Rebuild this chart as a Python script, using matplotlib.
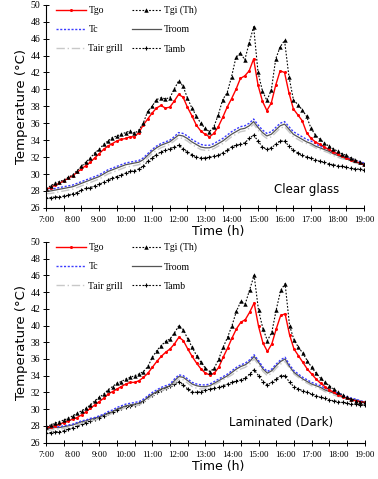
import numpy as np
import matplotlib
matplotlib.use("Agg")
import matplotlib.pyplot as plt
from matplotlib.ticker import MultipleLocator, FixedLocator

# time axis: every 10 min from 7:00 to 19:00
times = [f"{h}:{m:02d}" for h in range(7, 19) for m in range(0, 60, 10)] + ["19:00"]
t_hours = np.array([int(s.split(":")[0]) + int(s.split(":")[1]) / 60 for s in times])

hour_labels = [f"{h}:00" for h in range(7, 20)]

# ---------- Clear glass (top panel) ----------
clear_tgo = [28.2, 28.4, 28.7, 28.9, 29.2, 29.5,
             29.8, 30.2, 30.6, 31.0, 31.4, 31.9,
             32.4, 32.9, 33.3, 33.6, 33.9, 34.1,
             34.2, 34.4, 34.4, 34.9, 35.8, 36.5,
             37.2, 37.8, 38.1, 37.8, 37.9, 38.6,
             39.4, 39.1, 37.9, 36.9, 35.8, 35.1,
             34.7, 34.4, 34.8, 35.6, 36.7, 37.9,
             38.9, 40.0, 41.3, 41.6, 42.2, 43.6,
             40.5, 38.6, 37.5, 38.4, 40.5, 42.2,
             42.0, 39.6, 37.7, 37.0, 36.3, 34.9,
             34.2, 33.8, 33.5, 33.2, 32.9, 32.6,
             32.4, 32.1, 31.9, 31.7, 31.5, 31.3,
             31.1]
clear_tgi = [28.3, 28.6, 28.9, 29.1, 29.3, 29.6,
             29.9, 30.4, 30.9, 31.4, 31.9, 32.5,
             32.9, 33.5, 33.9, 34.3, 34.5, 34.7,
             34.9, 35.1, 34.8, 35.2, 36.0, 37.4,
             38.0, 38.8, 39.0, 38.9, 39.0, 40.0,
             41.0, 40.4, 39.0, 37.8, 36.9, 36.0,
             35.4, 35.0, 35.6, 37.0, 38.8, 39.6,
             41.5, 43.8, 44.3, 43.5, 45.5, 47.4,
             42.0, 39.8, 38.7, 39.9, 43.6, 45.0,
             45.8, 41.5, 38.8, 38.2, 37.6, 36.8,
             35.4, 34.6, 34.1, 33.7, 33.3, 33.0,
             32.7, 32.4, 32.2, 31.9, 31.7, 31.4,
             31.2]
clear_tc = [28.2, 28.2, 28.3, 28.4, 28.5, 28.6,
            28.7, 28.9, 29.1, 29.3, 29.5, 29.7,
            29.9, 30.2, 30.5, 30.7, 30.9, 31.1,
            31.3, 31.4, 31.5, 31.6, 31.9, 32.4,
            32.9, 33.3, 33.6, 33.8, 34.0, 34.4,
            34.9, 34.8, 34.5, 34.1, 33.8, 33.5,
            33.4, 33.4, 33.6, 33.9, 34.2, 34.6,
            35.0, 35.3, 35.6, 35.7, 36.0, 36.5,
            35.8, 35.2, 34.8, 35.0, 35.5, 36.0,
            36.2, 35.6, 35.0, 34.7, 34.4, 34.1,
            33.9, 33.6, 33.3, 33.1, 32.9, 32.6,
            32.4, 32.2, 32.0, 31.8, 31.6, 31.5,
            31.3]
clear_troom = [28.0, 28.0, 28.1, 28.2, 28.3, 28.4,
               28.5, 28.7, 28.9, 29.1, 29.3, 29.5,
               29.7, 30.0, 30.3, 30.5, 30.7, 30.9,
               31.1, 31.2, 31.3, 31.4, 31.7, 32.2,
               32.7, 33.1, 33.4, 33.6, 33.8, 34.2,
               34.6, 34.5, 34.2, 33.8, 33.5, 33.2,
               33.1, 33.1, 33.3, 33.6, 33.9, 34.3,
               34.7, 35.0, 35.3, 35.4, 35.7, 36.2,
               35.5, 34.9, 34.5, 34.7, 35.2, 35.7,
               35.9, 35.3, 34.7, 34.4, 34.1, 33.8,
               33.6, 33.3, 33.1, 32.9, 32.7, 32.4,
               32.2, 32.0, 31.8, 31.6, 31.4, 31.3,
               31.1]
clear_tair = [27.7, 27.7, 27.8, 27.9, 28.0, 28.1,
              28.2, 28.4, 28.6, 28.8, 29.0, 29.2,
              29.4, 29.7, 30.0, 30.2, 30.4, 30.6,
              30.8, 30.9, 31.0, 31.1, 31.4, 31.9,
              32.4, 32.8, 33.1, 33.3, 33.5, 33.9,
              34.3, 34.2, 33.9, 33.5, 33.2, 32.9,
              32.8, 32.8, 33.0, 33.3, 33.6, 34.0,
              34.4, 34.7, 35.0, 35.1, 35.4, 35.9,
              35.2, 34.6, 34.2, 34.4, 34.9, 35.4,
              35.6, 35.0, 34.4, 34.1, 33.8, 33.6,
              33.4, 33.1, 32.9, 32.7, 32.5, 32.2,
              32.0, 31.8, 31.7, 31.5, 31.3, 31.2,
              31.0]
clear_tamb = [27.2, 27.2, 27.3, 27.3, 27.4, 27.5,
              27.7, 27.8, 28.1, 28.3, 28.4, 28.6,
              28.8, 29.0, 29.3, 29.5, 29.7, 29.9,
              30.1, 30.3, 30.4, 30.6, 30.9, 31.5,
              31.9, 32.3, 32.6, 32.8, 33.0, 33.2,
              33.4, 33.0, 32.6, 32.3, 32.0, 31.9,
              31.9, 32.0, 32.1, 32.2, 32.5, 32.8,
              33.2, 33.4, 33.5, 33.7, 34.2, 34.6,
              33.9, 33.2, 32.9, 33.1, 33.5, 33.9,
              33.9, 33.3, 32.8, 32.5, 32.2, 32.0,
              31.9, 31.7, 31.5, 31.4, 31.2, 31.1,
              31.0, 30.9, 30.8, 30.7, 30.6, 30.6,
              30.5]

# ---------- Laminated (Dark) (bottom panel) ----------
lam_tgo = [27.7, 27.9, 28.0, 28.2, 28.4, 28.6,
           28.8, 29.0, 29.3, 29.7, 30.1, 30.5,
           30.9, 31.3, 31.8, 32.1, 32.4, 32.7,
           33.0, 33.2, 33.2, 33.4, 33.8, 34.3,
           35.0, 35.7, 36.3, 36.8, 37.2, 37.8,
           38.6, 38.2, 37.2, 36.3, 35.5, 34.8,
           34.3, 34.1, 34.3, 35.0, 36.2, 37.3,
           38.5, 39.6, 40.4, 40.7, 41.6, 42.7,
           39.9, 37.9, 36.9, 37.8, 39.6, 41.2,
           41.4, 38.9, 37.2, 36.4, 35.6, 34.8,
           34.2, 33.6, 33.1, 32.7, 32.3, 32.0,
           31.7, 31.5, 31.3, 31.1, 31.0, 30.9,
           30.8]
lam_tgi = [27.9, 28.1, 28.3, 28.5, 28.7, 28.9,
           29.2, 29.5, 29.8, 30.1, 30.5, 31.0,
           31.4, 31.8, 32.3, 32.7, 33.1, 33.3,
           33.6, 33.8, 34.0, 34.2, 34.5, 35.1,
           36.2, 37.0, 37.6, 38.1, 38.4, 39.1,
           40.0, 39.5, 38.4, 37.4, 36.4, 35.6,
           34.9, 34.5, 34.9, 36.0, 37.4, 38.6,
           40.0, 41.7, 42.9, 42.6, 44.3, 46.0,
           41.8, 39.6, 38.2, 39.2, 41.9, 44.2,
           45.0, 40.0, 38.3, 37.4, 36.7, 35.8,
           35.0, 34.3, 33.7, 33.2, 32.8, 32.4,
           32.0, 31.7, 31.4, 31.2, 31.0, 30.9,
           30.8]
lam_tc = [27.8, 27.8, 27.9, 27.9, 28.0, 28.1,
          28.2, 28.4, 28.6, 28.7, 28.9, 29.0,
          29.2, 29.4, 29.7, 29.9, 30.2, 30.4,
          30.6, 30.7, 30.8, 30.9, 31.2, 31.6,
          32.0, 32.3, 32.6, 32.8, 33.0, 33.6,
          34.1, 34.0, 33.6, 33.2, 33.0, 32.9,
          32.9, 33.0, 33.3, 33.6, 33.9, 34.2,
          34.6, 35.0, 35.3, 35.5, 35.9, 36.5,
          35.8, 35.0, 34.5, 34.8, 35.4, 35.9,
          36.2, 35.3, 34.6, 34.2, 33.8, 33.5,
          33.2, 33.0, 32.8, 32.5, 32.3, 32.1,
          31.9, 31.7, 31.5, 31.3, 31.2, 31.0,
          30.9]
lam_troom = [27.7, 27.7, 27.8, 27.8, 27.9, 28.0,
             28.1, 28.3, 28.5, 28.6, 28.8, 28.9,
             29.1, 29.3, 29.5, 29.7, 30.0, 30.2,
             30.4, 30.5, 30.6, 30.7, 31.0, 31.4,
             31.8, 32.1, 32.4, 32.6, 32.8, 33.4,
             33.9, 33.8, 33.4, 33.0, 32.8, 32.7,
             32.7, 32.8, 33.1, 33.4, 33.7, 34.0,
             34.4, 34.8, 35.1, 35.3, 35.7, 36.3,
             35.6, 34.8, 34.3, 34.6, 35.2, 35.7,
             36.0, 35.1, 34.4, 34.0, 33.6, 33.3,
             33.0, 32.8, 32.6, 32.3, 32.1, 31.9,
             31.7, 31.5, 31.3, 31.2, 31.1, 30.9,
             30.8]
lam_tair = [27.5, 27.5, 27.6, 27.6, 27.7, 27.8,
            27.9, 28.1, 28.3, 28.4, 28.6, 28.7,
            28.9, 29.1, 29.3, 29.5, 29.8, 30.0,
            30.2, 30.3, 30.4, 30.5, 30.8, 31.2,
            31.6, 31.9, 32.2, 32.4, 32.6, 33.1,
            33.6, 33.5, 33.1, 32.7, 32.5, 32.4,
            32.5, 32.6, 32.9, 33.2, 33.5, 33.8,
            34.1, 34.5, 34.8, 35.0, 35.4, 36.0,
            35.3, 34.5, 34.0, 34.3, 34.9, 35.4,
            35.7, 34.9, 34.2, 33.8, 33.4, 33.1,
            32.8, 32.6, 32.4, 32.1, 31.9, 31.7,
            31.5, 31.4, 31.2, 31.1, 31.0, 30.8,
            30.7]
lam_tamb = [27.1, 27.2, 27.3, 27.3, 27.4, 27.6,
            27.8, 28.0, 28.2, 28.4, 28.6, 28.8,
            29.0, 29.2, 29.5, 29.7, 29.9, 30.1,
            30.3, 30.4, 30.5, 30.7, 31.0, 31.4,
            31.7, 32.0, 32.3, 32.5, 32.8, 33.0,
            33.3, 32.9, 32.4, 32.1, 32.0, 32.1,
            32.3, 32.4, 32.5, 32.6, 32.8, 33.0,
            33.2, 33.4, 33.5, 33.7, 34.2, 34.7,
            34.0, 33.3, 32.9, 33.2, 33.6, 34.0,
            34.0, 33.2, 32.7, 32.4, 32.2, 32.0,
            31.8, 31.6, 31.4, 31.3, 31.1, 31.0,
            30.9, 30.8, 30.7, 30.6, 30.6, 30.5,
            30.5]

SERIF = "Liberation Serif"
SANS = "DejaVu Sans"


def draw_panel(ax, tgo, tgi, tc, troom, tair, tamb, caption, cap_xy):
    # lines in back-to-front order
    l_tamb, = ax.plot(t_hours, tamb, color="black", lw=0.8, ls=(0, (1.5, 1.5)),
                      marker="+", ms=3, mew=0.8)
    l_tair, = ax.plot(t_hours, tair, color="#c8c8c8", lw=1.0, ls=(0, (6, 2, 1, 2)))
    l_troom, = ax.plot(t_hours, troom, color="#555555", lw=0.9)
    l_tc, = ax.plot(t_hours, tc, color="#3a3aff", lw=1.0, ls=(0, (1.5, 1.2)))
    l_tgo, = ax.plot(t_hours, tgo, color="red", lw=1.0, marker="o", ms=2.2, mew=0)
    l_tgi, = ax.plot(t_hours, tgi, color="black", lw=0.8, ls=(0, (1.5, 1.5)),
                     marker="^", ms=3.2, mew=0)

    ax.set_xlim(7, 19)
    ax.set_ylim(26, 50)
    ax.spines["top"].set_visible(False)
    ax.spines["right"].set_visible(False)
    ax.spines["left"].set_linewidth(0.8)
    ax.spines["bottom"].set_linewidth(0.8)

    # y ticks
    ax.yaxis.set_major_locator(MultipleLocator(2))
    ax.tick_params(axis="y", direction="inout", length=4, width=0.7, labelsize=7, pad=2)
    for lb in ax.get_yticklabels():
        lb.set_family(SERIF)

    # x: ticks every 40 min, labels every hour
    ax.xaxis.set_major_locator(FixedLocator(np.arange(7, 19.01, 2 / 3)))
    ax.xaxis.set_minor_locator(FixedLocator(np.arange(7, 20)))
    ax.xaxis.remove_overlapping_locs = False
    ax.set_xticklabels([])
    ax.set_xticks(np.arange(7, 20), labels=hour_labels, minor=True)
    ax.tick_params(axis="x", which="major", direction="inout", length=4, width=0.7)
    ax.tick_params(axis="x", which="minor", length=0, labelsize=6.5, pad=6)
    for lb in ax.get_xticklabels(minor=True):
        lb.set_family(SERIF)

    ax.set_ylabel("Temperature (°C)", fontsize=9.5, family=SANS, labelpad=2)
    ax.set_xlabel("Time (h)", fontsize=9, family=SANS)
    ax.xaxis.set_label_coords(0.54, -0.085)

    ax.text(cap_xy[0], cap_xy[1], caption, fontsize=8.5, family=SANS,
            ha="center", va="center")

    handles = [l_tgo, l_tc, l_tair, l_tgi, l_troom, l_tamb]
    labels = ["Tgo", "Tc", "Tair grill", "Tgi (Th)", "Troom", "Tamb"]
    ax.legend(handles, labels, ncol=2, loc="upper left", bbox_to_anchor=(0.02, 1.015),
              frameon=False, numpoints=1, handlelength=3.0, handletextpad=0.3,
              columnspacing=0.9, labelspacing=1.05, borderaxespad=0,
              prop={"family": SERIF, "size": 7})


fig = plt.figure(figsize=(3.78, 4.79), dpi=100)
ax1 = fig.add_axes([0.122, 0.566, 0.841, 0.424])
ax2 = fig.add_axes([0.122, 0.076, 0.843, 0.419])

draw_panel(ax1, clear_tgo, clear_tgi, clear_tc, clear_troom, clear_tair, clear_tamb,
           "Clear glass", (16.85, 28.2))
draw_panel(ax2, lam_tgo, lam_tgi, lam_tc, lam_troom, lam_tair, lam_tamb,
           "Laminated (Dark)", (15.85, 28.4))

fig.savefig("out.png", dpi=100)
